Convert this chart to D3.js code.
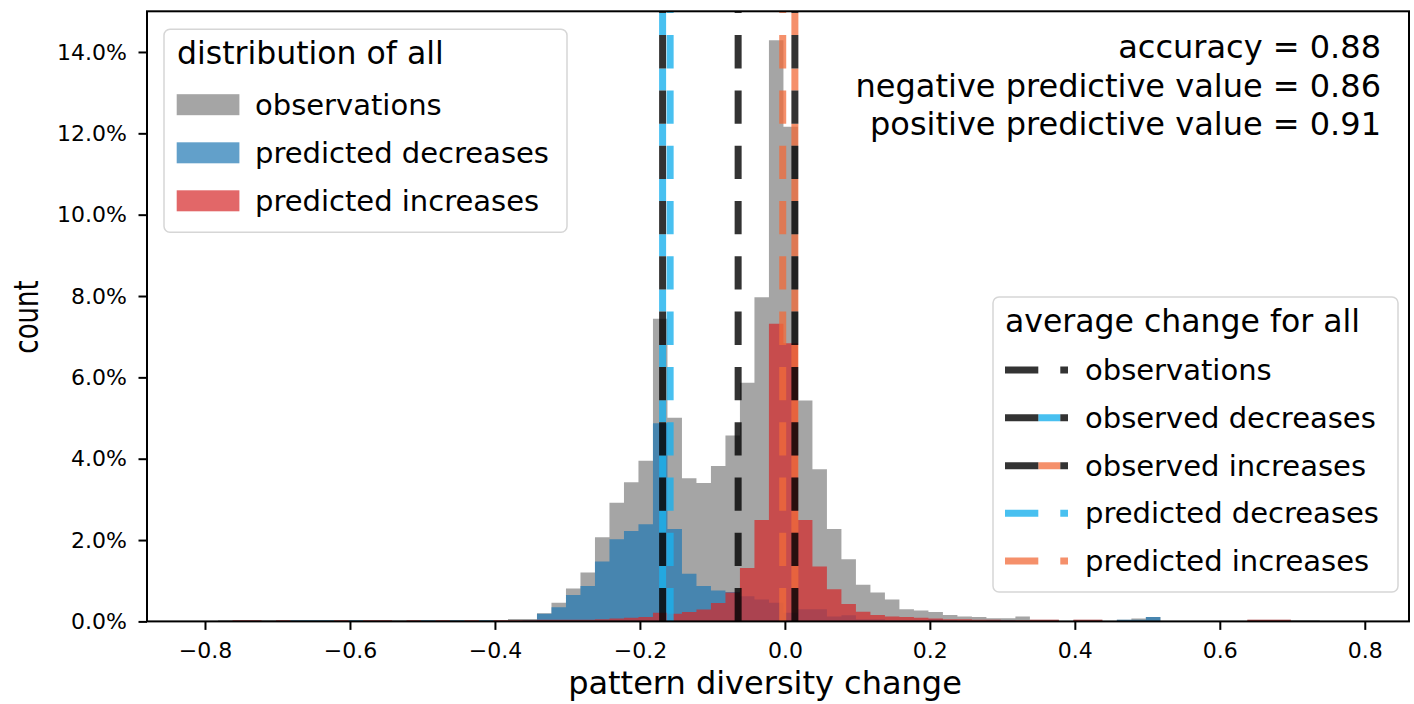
<!DOCTYPE html>
<html>
<head>
<meta charset="utf-8">
<script src="https://cdn.jsdelivr.net/npm/d3@7"></script>
<style>
  body { margin: 0; background: #fff; }
  svg { display: block; font-family: "DejaVu Sans", sans-serif; }
</style>
</head>
<body>
<svg id="chart" width="1414" height="704"></svg>
<script>
// histogram bins: 79 bins of 0.02, share of all observations in %
const binStart = -0.802;
const binWidth = 0.02;

const observations = [
  0, 0.03, 0.03, 0.03, 0.03, 0.03, 0.03, 0.03, 0.03, 0.03,
  0.03, 0.03, 0.03, 0.03, 0.03, 0.03, 0.03, 0.03, 0.03, 0.03,
  0.03, 0.06, 0.06, 0.20, 0.46, 0.81, 1.20, 2.07, 2.92, 3.42,
  3.95, 7.44, 5.01, 3.52, 3.40, 3.82, 4.57, 5.87, 7.97, 14.29,
  12.16, 5.43, 3.74, 2.27, 1.53, 0.90, 0.71, 0.54, 0.30, 0.27,
  0.23, 0.16, 0.12, 0.11, 0.08, 0.08, 0.12, 0.04, 0.04, 0,
  0.04, 0.04, 0, 0.04, 0.07, 0.11, 0, 0, 0, 0,
  0, 0, 0.04, 0.04, 0.04, 0.03, 0.03, 0, 0
];

const predictedDecreases = [
  0, 0, 0, 0, 0, 0, 0.03, 0.03, 0.03, 0,
  0.03, 0, 0, 0, 0, 0.03, 0, 0.03, 0, 0.03,
  0, 0, 0.03, 0.19, 0.35, 0.65, 0.87, 1.47, 2.02, 2.22,
  2.39, 4.87, 2.27, 1.17, 0.87, 0.76, 0.72, 0.62, 0.54, 0.46,
  0.21, 0.30, 0.30, 0.12, 0.15, 0.05, 0.05, 0.03, 0.03, 0.03,
  0.05, 0.03, 0, 0, 0.03, 0.03, 0, 0, 0, 0,
  0, 0, 0, 0.04, 0.04, 0.11, 0, 0, 0, 0,
  0, 0, 0, 0, 0, 0, 0, 0, 0
];

const predictedIncreases = [
  0, 0, 0.03, 0.03, 0, 0.03, 0, 0, 0, 0.03,
  0, 0.03, 0.03, 0, 0.03, 0, 0.03, 0, 0.03, 0,
  0.03, 0.03, 0.03, 0.04, 0.04, 0.04, 0.04, 0.05, 0.07, 0.09,
  0.11, 0.21, 0.19, 0.23, 0.29, 0.45, 0.71, 1.31, 2.49, 7.32,
  6.84, 2.49, 1.35, 0.79, 0.43, 0.24, 0.16, 0.12, 0.11, 0.09,
  0.07, 0.05, 0.05, 0.04, 0.04, 0.03, 0.03, 0.04, 0.04, 0,
  0.04, 0.04, 0, 0, 0, 0, 0, 0, 0, 0,
  0, 0, 0.04, 0.04, 0.04, 0, 0, 0, 0
];

const histLabels = ['observations', 'predicted decreases', 'predicted increases'];

// average change lines
const meanLabels = ['observations', 'observed decreases', 'observed increases', 'predicted decreases', 'predicted increases'];
const meanValues = [-0.0645, -0.1687, 0.0138, -0.1583, -0.0030];

const scoreLines = [
  'accuracy = 0.88',
  'negative predictive value = 0.86',
  'positive predictive value = 0.91'
];

const xTicks = [-0.8, -0.6, -0.4, -0.2, 0, 0.2, 0.4, 0.6, 0.8];
const yTicks = [0, 2, 4, 6, 8, 10, 12, 14];

const gray = '#7f7f7f', blue = '#1f77b4', red = '#d62728';
const cyan = '#1ab0ec', orange = '#f26b3a', dark = '#000';

const margin = { top: 11.3, right: 5, bottom: 82.6, left: 147 };
const W = 1414, H = 704;
const width = W - margin.left - margin.right;
const height = H - margin.top - margin.bottom;

const svg = d3.select('#chart');
const g = svg.append('g').attr('transform', `translate(${margin.left},${margin.top})`);

const x = d3.scaleLinear().domain([-0.88, 0.861]).range([0, width]);
const y = d3.scaleLinear().domain([0, 15]).range([height, 0]);

// stepfilled histograms
const area = d3.area()
  .curve(d3.curveStepAfter)
  .x(d => x(d.x))
  .y0(y(0))
  .y1(d => y(d.v));

function steps(values) {
  const pts = values.map((v, i) => ({ x: binStart + i * binWidth, v }));
  pts.push({ x: binStart + values.length * binWidth, v: values[values.length - 1] });
  return pts;
}

[[observations, gray], [predictedDecreases, blue], [predictedIncreases, red]].forEach(([vals, c]) => {
  g.append('path')
    .attr('d', area(steps(vals)))
    .attr('fill', c)
    .attr('fill-opacity', 0.7);
});

// vertical average lines, dashes start at the bottom
const dash = '33.3,22';
const gapDash = '0,33.3,22,0';
const lineW = 7;

function vline(v, color, pattern, opacity) {
  g.append('line')
    .attr('x1', x(v)).attr('x2', x(v))
    .attr('y1', y(0)).attr('y2', y(15))
    .attr('stroke', color)
    .attr('stroke-width', lineW)
    .attr('stroke-opacity', opacity)
    .attr('stroke-dasharray', pattern);
}

vline(meanValues[0], dark, dash, 0.8);
vline(meanValues[1], cyan, gapDash, 0.8);
vline(meanValues[1], dark, dash, 0.8);
vline(meanValues[2], orange, gapDash, 0.75);
vline(meanValues[2], dark, dash, 0.8);
vline(meanValues[3], cyan, dash, 0.8);
vline(meanValues[4], orange, dash, 0.75);

// axes
const xAxis = g.append('g')
  .attr('transform', `translate(0,${height})`)
  .call(d3.axisBottom(x).tickValues(xTicks).tickFormat(d3.format('.1f')).tickSize(8.5).tickPadding(12.5));
const yAxis = g.append('g')
  .call(d3.axisLeft(y).tickValues(yTicks).tickFormat(d => d.toFixed(1) + '%').tickSize(8.5).tickPadding(11.5));

[xAxis, yAxis].forEach(a => {
  a.select('.domain').remove();
  a.selectAll('.tick line').attr('stroke', '#000').attr('stroke-width', 2);
  a.selectAll('.tick text')
    .attr('fill', '#000')
    .style('font-size', '22px')
    .style('font-family', '"DejaVu Sans", sans-serif');
});

g.append('rect')
  .attr('width', width).attr('height', height)
  .attr('fill', 'none').attr('stroke', '#000').attr('stroke-width', 2);

// axis labels
svg.append('text')
  .attr('x', 765).attr('y', 694)
  .attr('text-anchor', 'middle')
  .style('font-size', '32px')
  .text('pattern diversity change');

svg.append('text')
  .attr('transform', 'translate(38,317) scale(1.3,1) rotate(-90)')
  .attr('text-anchor', 'middle')
  .style('font-size', '26px')
  .text('count');

// score text top right
svg.append('g').selectAll('text')
  .data(scoreLines)
  .join('text')
  .attr('x', 1381)
  .attr('y', (d, i) => 58 + i * 38.5)
  .attr('text-anchor', 'end')
  .style('font-size', '32px')
  .text(d => d);

// legend helpers
function legendBox(x0, y0, w, h) {
  svg.append('rect')
    .attr('x', x0).attr('y', y0)
    .attr('width', w).attr('height', h)
    .attr('rx', 6)
    .attr('fill', '#fff').attr('fill-opacity', 0.8)
    .attr('stroke', '#d6d6d6').attr('stroke-width', 1.5);
}

// left legend: histograms
legendBox(164, 29.3, 403, 203);
svg.append('text')
  .attr('x', 177).attr('y', 64)
  .style('font-size', '31.5px')
  .text('distribution of all');

const histColors = [gray, blue, red];
const histRowY = [104.7, 152.8, 200.8];
histLabels.forEach((lab, i) => {
  svg.append('rect')
    .attr('x', 176.7).attr('y', histRowY[i] - 10.5)
    .attr('width', 62.7).attr('height', 21)
    .attr('fill', histColors[i]).attr('fill-opacity', 0.7);
  svg.append('text')
    .attr('x', 255).attr('y', histRowY[i] + 10)
    .style('font-size', '29px')
    .text(lab);
});

// right legend: average lines
legendBox(993, 297, 405, 295);
svg.append('text')
  .attr('x', 1005).attr('y', 331.7)
  .style('font-size', '31.5px')
  .text('average change for all');

const meanRowY = [370, 417.7, 465.7, 513.3, 561];
const meanStyles = [
  [[dark, dash, 0.8]],
  [[cyan, gapDash, 0.8], [dark, dash, 0.8]],
  [[orange, gapDash, 0.75], [dark, dash, 0.8]],
  [[cyan, dash, 0.8]],
  [[orange, dash, 0.75]]
];
meanLabels.forEach((lab, i) => {
  meanStyles[i].forEach(([c, p, o]) => {
    svg.append('line')
      .attr('x1', 1005).attr('x2', 1068)
      .attr('y1', meanRowY[i]).attr('y2', meanRowY[i])
      .attr('stroke', c).attr('stroke-width', lineW)
      .attr('stroke-opacity', o)
      .attr('stroke-dasharray', p);
  });
  svg.append('text')
    .attr('x', 1085).attr('y', meanRowY[i] + 10)
    .style('font-size', '29px')
    .text(lab);
});
</script>
</body>
</html>
